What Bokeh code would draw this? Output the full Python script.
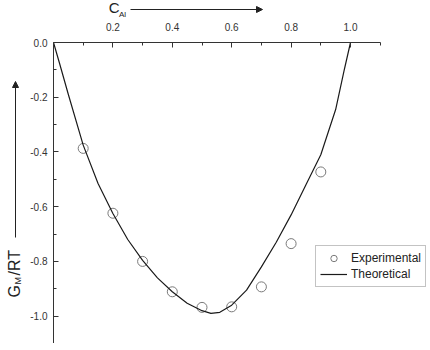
import math
from bokeh.plotting import figure
from bokeh.layouts import row, column
from bokeh.models import (Range1d, FixedTicker, Arrow, NormalHead, Legend,
                          LegendItem, CustomJSTickFormatter)
from bokeh.core.properties import value
from bokeh.embed import file_html
from bokeh.resources import INLINE

# Experimental points
c_exp = [0.1, 0.2, 0.3, 0.4, 0.5, 0.6, 0.7, 0.8, 0.9]
g_exp = [-0.387, -0.624, -0.80, -0.911, -0.968, -0.966, -0.893, -0.735, -0.473]

# Theoretical curve
c_th = [0.0, 0.02, 0.05, 0.1, 0.15, 0.2, 0.25, 0.3, 0.35, 0.4, 0.45, 0.5, 0.53,
        0.56, 0.6, 0.65, 0.7, 0.75, 0.8, 0.85, 0.9, 0.95, 0.98, 1.0]
g_th = [0.0, -0.075, -0.19, -0.375, -0.515, -0.625, -0.72, -0.796, -0.86, -0.911,
        -0.953, -0.980, -0.990, -0.986, -0.960, -0.905, -0.82, -0.73, -0.63,
        -0.52, -0.41, -0.245, -0.095, 0.0]

x_major = [0.2, 0.4, 0.6, 0.8, 1.0]
x_minor = [0.0, 0.1, 0.3, 0.5, 0.7, 0.9, 1.1]
y_major = [0.0, -0.2, -0.4, -0.6, -0.8, -1.0]
y_minor = [-0.1, -0.3, -0.5, -0.7, -0.9, -1.1]

FONT = "Liberation Sans"
AX = "#333333"
INK = "#222222"

# ---------------- main plot ----------------
p = figure(width=403, height=325, output_backend="svg", toolbar_location=None,
           x_range=Range1d(0, 1.2626), y_range=Range1d(-1.1, 0),
           x_axis_location="above", y_axis_location="left",
           min_border_left=28, min_border_right=0, min_border_top=24,
           min_border_bottom=0)
p.outline_line_color = None
p.grid.visible = False

xa = p.xaxis[0]
xa.ticker = FixedTicker(ticks=x_major, minor_ticks=x_minor)
xa.bounds = (0, 1.1)
ya = p.yaxis[0]
ya.ticker = FixedTicker(ticks=y_major, minor_ticks=y_minor)
fmt = CustomJSTickFormatter(code="return tick.toFixed(1);")
for ax in (xa, ya):
    ax.formatter = fmt
    ax.axis_line_color = AX
    ax.major_tick_line_color = AX
    ax.minor_tick_line_color = AX
    ax.major_tick_in = 5
    ax.major_tick_out = 0
    ax.minor_tick_in = 3
    ax.minor_tick_out = 0
    ax.major_label_text_font = FONT
    ax.major_label_text_font_size = "10px"
    ax.major_label_text_color = AX
xa.major_label_standoff = 12
ya.major_label_standoff = 6

r_exp = p.scatter(c_exp, g_exp, marker="circle", size=10, fill_color=None,
                  line_color="#7a7a7a", line_width=1)
r_th = p.line(c_th, g_th, line_color="#1a1a1a", line_width=1.2)

legend = Legend(items=[LegendItem(label="Experimental", renderers=[r_exp]),
                       LegendItem(label="Theoretical", renderers=[r_th])],
                location=(262, 56), border_line_color="#888888",
                background_fill_color="white", background_fill_alpha=1,
                label_text_font=FONT, label_text_font_size="12px",
                label_text_color=INK, glyph_width=27, glyph_height=16,
                label_height=16, label_standoff=4, padding=4, spacing=0, margin=0)
p.add_layout(legend, "center")

# ---------------- helper strips for the axis titles ----------------
def blank(w, h, xr, yr, left_border=0):
    f = figure(width=w, height=h, output_backend="svg", toolbar_location=None,
               x_range=Range1d(*xr), y_range=Range1d(*yr),
               x_axis_location=None, y_axis_location=None,
               min_border=0, min_border_left=left_border)
    f.outline_line_color = None
    f.grid.visible = False
    return f

# top strip: frame spans page x 53..428, page y 0..18 (y measured upward)
top = blank(403, 18, (53, 428), (0, 18), left_border=28)
top.text(x=[108.3], y=[10.7], text=["C"], text_font=value(FONT),
         text_font_size="15px", text_color=INK, text_baseline="alphabetic")
top.text(x=[118.5], y=[3.6], text=["Al"], text_font=value(FONT),
         text_font_size="8px", text_color=INK, text_baseline="alphabetic")
top.add_layout(Arrow(x_start=130, y_start=9, x_end=262, y_end=9,
                     line_color=INK, line_width=1,
                     end=NormalHead(size=6, fill_color=INK, line_color=INK)))

# left strip: page x 0..25, page y 0..343 (y measured upward)
left = blank(25, 343, (0, 25), (0, 343))
rot = math.pi / 2
left.text(x=[13.6], y=[46], text=["G"], angle=rot, text_font=value(FONT),
          text_font_size="16px", text_color=INK, text_baseline="alphabetic")
left.text(x=[17.2], y=[59], text=["M"], angle=rot, text_font=value(FONT),
          text_font_size="9px", text_color=INK, text_baseline="alphabetic")
left.text(x=[13.6], y=[68], text=["/RT"], angle=rot, text_font=value(FONT),
          text_font_size="16px", text_color=INK, text_baseline="alphabetic")
left.add_layout(Arrow(x_start=15, y_start=106, x_end=15, y_end=262,
                      line_color=INK, line_width=1,
                      end=NormalHead(size=6, fill_color=INK, line_color=INK)))

layout = row(left, column(top, p, spacing=0), spacing=0)

open("out.html", "w").write(file_html(layout, INLINE))
